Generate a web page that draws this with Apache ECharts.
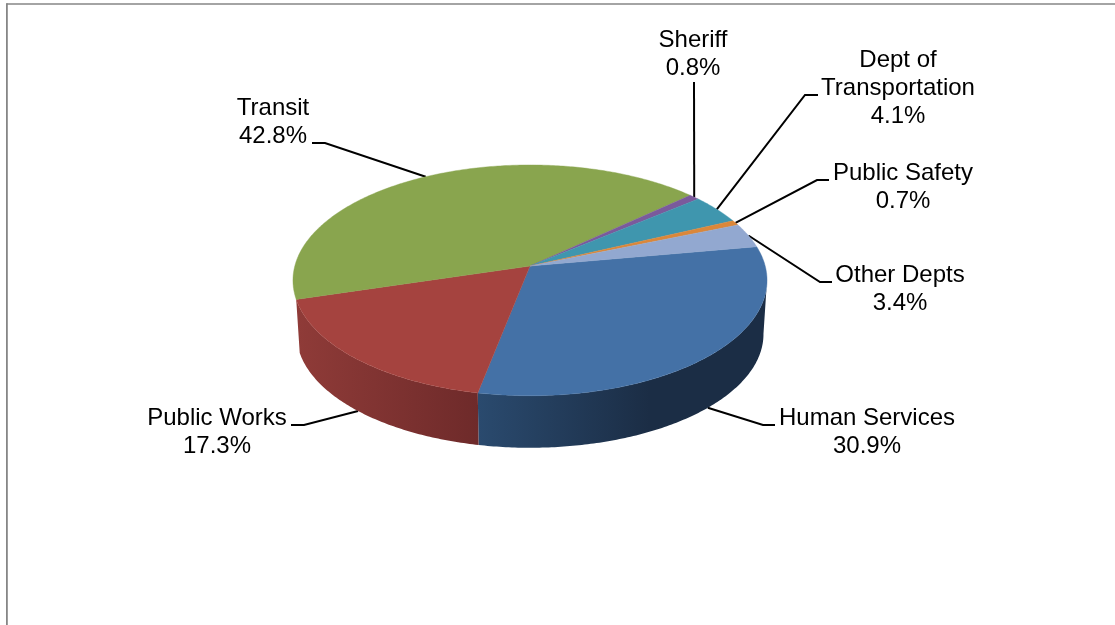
<!DOCTYPE html>
<html>
<head>
<meta charset="utf-8">
<style>html,body{margin:0;padding:0;background:#fff}#chart{width:1115px;height:625px}</style>
<script src="https://cdn.jsdelivr.net/npm/echarts@6/dist/echarts.min.js"></script>
</head>
<body>
<div id="chart"></div>
<script>
// Share of spending by department, clockwise from the right-hand edge of the pie.
const departments = ['Human Services', 'Public Works', 'Transit', 'Sheriff', 'Dept of\nTransportation', 'Public Safety', 'Other Depts'];
const percents = [30.9, 17.3, 42.8, 0.8, 4.1, 0.7, 3.4];

const topColors = ['#4471a6', '#a5433f', '#89a54e', '#7a5a9c', '#3f96ae', '#db8739', '#92a8d0'];
// Side wall shading runs left to right; slices on the far side show no wall.
const wallRamps = [
  [[479, '#2a4a6e'], [650, '#1b2d45']],
  [[297, '#8f3b38'], [479, '#6e2a2a']],
  null, null, null, null, null
];
// Label anchor and leader elbow points for each department.
const labelCenters = [[867, 432], [217, 432], [273, 122], [693, 54], [898, 88], [903, 187], [900, 289]];
const leaderElbows = [
  [[763, 425], [775, 425]],
  [[304, 425], [291, 425]],
  [[325, 143], [312, 143]],
  [[694, 82]],
  [[805, 95], [818, 95]],
  [[817, 180], [829, 180]],
  [[820, 282], [832, 282]]
];
const leaderOnBase = [true, true, false, false, false, false, false];

// Tilted disc with a slight perspective: the near edge sits further from the hub.
const hubX = 530, hubY = 266, radiusX = 235.2, radiusY = 113.6, perspective = 0.1243;
const baseScale = 0.985, baseDrop = 54;
const startAngle = -10;
// Angle at which the rim reaches its right-most point; the wall starts there.
const silhouetteAngle = 7;

function project(deg, lower) {
  const t = deg * Math.PI / 180, u = Math.cos(t), v = Math.sin(t), w = 1 - perspective * v;
  const s = lower ? baseScale : 1;
  return [hubX + s * radiusX * u / w, hubY + (lower ? baseDrop : 0) + s * radiusY * v / w];
}

const sliceAngles = [];
percents.reduce((from, p) => {
  const to = from + p * 3.6;
  sliceAngles.push([from, to]);
  return to;
}, startAngle);

function arc(a, b, lower) {
  const steps = Math.max(4, Math.ceil((b - a) * 1.5));
  const pts = [];
  for (let k = 0; k <= steps; k++) pts.push(project(a + (b - a) * k / steps, lower));
  return pts;
}

function renderWall(params) {
  const i = params.dataIndex;
  const ramp = wallRamps[i];
  if (!ramp) return null;
  const a = Math.max(sliceAngles[i][0], silhouetteAngle), b = sliceAngles[i][1];
  return {
    type: 'polygon',
    shape: { points: arc(a, b, false).concat(arc(a, b, true).reverse()) },
    style: {
      fill: {
        type: 'linear', global: true, x: ramp[0][0], y: 0, x2: ramp[1][0], y2: 0,
        colorStops: [{ offset: 0, color: ramp[0][1] }, { offset: 1, color: ramp[1][1] }]
      }
    }
  };
}

function renderTop(params) {
  const i = params.dataIndex;
  return {
    type: 'polygon',
    shape: { points: [[hubX, hubY]].concat(arc(sliceAngles[i][0], sliceAngles[i][1], false)) },
    style: { fill: topColors[i], stroke: topColors[i], lineWidth: 0.4 }
  };
}

function renderLabel(params, api) {
  const i = params.dataIndex;
  const [a, b] = sliceAngles[i];
  const start = project((a + b) / 2, leaderOnBase[i]);
  return {
    type: 'group',
    children: [
      {
        type: 'polyline',
        shape: { points: [start].concat(leaderElbows[i]) },
        style: { fill: null, stroke: '#000', lineWidth: 2 }
      },
      {
        type: 'text',
        style: {
          x: labelCenters[i][0], y: labelCenters[i][1],
          text: departments[i] + '\n' + api.value(0).toFixed(1) + '%',
          align: 'center', verticalAlign: 'middle', lineHeight: 28,
          font: '24px "Liberation Sans", Arial, sans-serif', fill: '#000'
        }
      }
    ]
  };
}

const seriesData = percents.map(p => [p]);
const chart = echarts.init(document.getElementById('chart'));
chart.setOption({
  animation: false,
  backgroundColor: '#fff',
  graphic: [
    { type: 'line', silent: true, shape: { x1: 6.5, y1: 4, x2: 1115, y2: 4 }, style: { stroke: '#868686', lineWidth: 1.6 } },
    { type: 'line', silent: true, shape: { x1: 6.9, y1: 3.2, x2: 6.9, y2: 625 }, style: { stroke: '#868686', lineWidth: 1.8 } }
  ],
  series: [
    { type: 'custom', silent: true, coordinateSystem: 'none', data: seriesData, renderItem: renderWall, z: 2 },
    { type: 'custom', silent: true, coordinateSystem: 'none', data: seriesData, renderItem: renderTop, z: 3 },
    { type: 'custom', silent: true, coordinateSystem: 'none', data: seriesData, renderItem: renderLabel, z: 1 }
  ]
});
</script>
</body>
</html>
